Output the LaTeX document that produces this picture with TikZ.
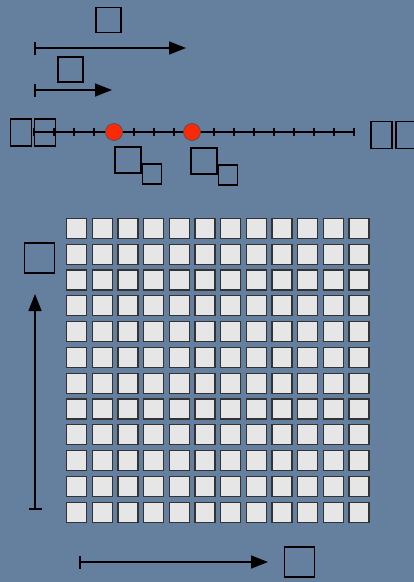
\documentclass[tikz,border=0pt]{standalone}
\usepackage{tikz}
\usetikzlibrary{arrows.meta,positioning,calc}
\definecolor{slate}{RGB}{101,128,159}
\definecolor{cellgray}{RGB}{230,230,230}
\definecolor{dotred}{RGB}{250,42,8}

\begin{document}
\begin{tikzpicture}[
  x=1pt, y=-1pt,
  arrow/.style={{Bar[width=13pt,line width=2pt]}-{Triangle[length=17pt,width=13pt]}, line width=1.5pt},
  glyph/.style={draw, line width=1.5pt, minimum width=25pt, minimum height=25pt, inner sep=0pt},
  bigglyph/.style={glyph, minimum width=30pt, minimum height=30pt},
  pairglyph/.style={glyph, minimum width=21pt, minimum height=27pt},
  subglyph/.style={glyph, minimum width=19pt, minimum height=20pt},
  cell/.style={draw=black!80, fill=cellgray, line width=1.2pt, minimum size=20pt, inner sep=0pt},
  dot/.style={circle, draw=black!70, fill=dotred, line width=0.6pt, minimum size=17pt, inner sep=0pt},
]
  \useasboundingbox (0,0) rectangle (414,582);
  \fill[slate] (0,0) rectangle (414,582);

  \coordinate (a1s) at (34,48);
  \coordinate (a1e) at (186,48);
  \draw[arrow] (a1s) -- (a1e);
  \node[glyph] (a1lab) at (108.5,20) {};

  \coordinate (a2s) at (34,90);
  \coordinate (a2e) at (112,90);
  \draw[arrow] (a2s) -- (a2e);
  \node[glyph] (a2lab) at (70.5,69.5) {};

  \coordinate (nl-l) at (34,132);
  \coordinate (nl-r) at (354,132);
  \draw[line width=2.5pt] (nl-l) -- (nl-r);
  \foreach \i in {0,...,16} {
    \draw[line width=1.5pt] ($(nl-l)+(20*\i,-4)$) -- ($(nl-l)+(20*\i,4)$);
  }
  \node[dot] (p1) at ($(nl-l)+(80,0)$) {};
  \node[dot] (p2) at ($(nl-l)+(158,0)$) {};

  \node[pairglyph] (ll1) at (21,132.5) {};
  \node[pairglyph] (ll2) at (45,132.5) {};
  \node[pairglyph] (rl1) at (381.5,135) {};
  \node[pairglyph] (rl2) at (406.5,135) {};

  \node[glyph, minimum width=26pt, minimum height=26pt] (q1) at (128,160) {};
  \node[subglyph, anchor=west] (q1s) at (q1.south east) {};
  \node[glyph, minimum width=26pt, minimum height=26pt] (q2) at (204,161) {};
  \node[subglyph, anchor=west] (q2s) at (q2.south east) {};

  \foreach \r in {0,...,11} {
    \foreach \c in {0,...,11} {
      \node[cell] (c-\r-\c) at ({76.7+25.66*\c},{228.3+25.8*\r}) {};
    }
  }

  \coordinate (vs) at (35,510);
  \coordinate (ve) at (35,294);
  \draw[arrow] (vs) -- (ve);
  \node[bigglyph] (vlab) at (39.5,258) {};

  \coordinate (hs) at (79,562);
  \coordinate (he) at (268,562);
  \draw[arrow] (hs) -- (he);
  \node[bigglyph] (hlab) at (299.5,562) {};
\end{tikzpicture}
\end{document}
